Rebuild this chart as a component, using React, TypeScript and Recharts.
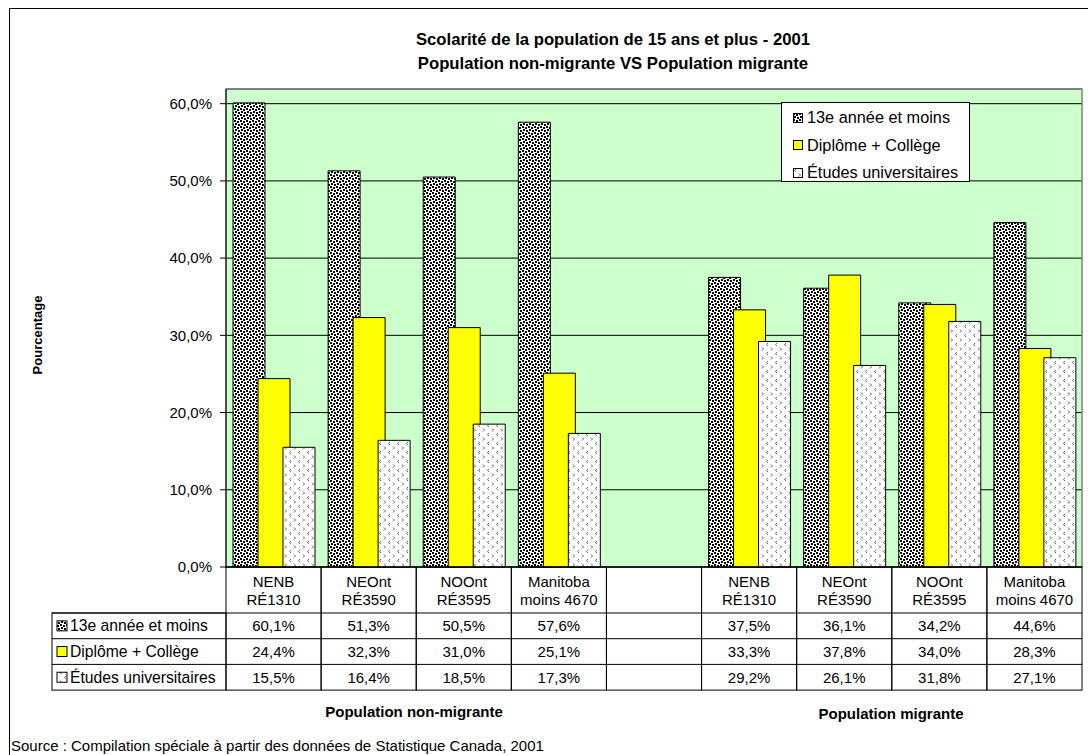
import React from "react";
import { BarChart, Bar, XAxis, YAxis, CartesianGrid, Legend, ReferenceArea } from "recharts";

// catégories (deux lignes par étiquette), colonne vide au centre
const categories: [string, string][] = [
  ["NENB", "RÉ1310"],
  ["NEOnt", "RÉ3590"],
  ["NOOnt", "RÉ3595"],
  ["Manitoba", "moins 4670"],
  ["", ""],
  ["NENB", "RÉ1310"],
  ["NEOnt", "RÉ3590"],
  ["NOOnt", "RÉ3595"],
  ["Manitoba", "moins 4670"],
];

const secondaire = [60.1, 51.3, 50.5, 57.6, null, 37.5, 36.1, 34.2, 44.6];
const college = [24.4, 32.3, 31.0, 25.1, null, 33.3, 37.8, 34.0, 28.3];
const universite = [15.5, 16.4, 18.5, 17.3, null, 29.2, 26.1, 31.8, 27.1];

const seriesNames = ["13e année et moins", "Diplôme + Collège", "Études universitaires"];
const yTicks = [0, 10, 20, 30, 40, 50, 60];

const data = categories.map((c, i) => ({
  key: "c" + i,
  s1: secondaire[i],
  s2: college[i],
  s3: universite[i],
}));

const FONT = "'Liberation Sans', Arial, sans-serif";
const fills = ["url(#patDark)", "#ffff00", "url(#patLight)"];
const rowsData = [secondaire, college, universite];
const HEADER_H = 46;
const ROW_H = 25.7;
const LABEL_W = 174;

const fmt = (v: number | null) => (v == null ? "" : v.toFixed(1).replace(".", ",") + "%");

function TableTick(props: any) {
  const { x, y, payload, index } = props;
  const half = payload && payload.offset ? payload.offset : 47.5;
  const i = index;
  const left = x - half;
  const [l1, l2] = categories[i] || ["", ""];
  return (
    <g fontFamily={FONT} fontSize={15} fill="#000">
      <rect x={left} y={y} width={half * 2} height={HEADER_H + ROW_H * 3} fill="none" stroke="#000" />
      <text x={x} y={y + 14} textAnchor="middle" dominantBaseline="central" fill="#000">{l1}</text>
      <text x={x} y={y + 32} textAnchor="middle" dominantBaseline="central" fill="#000">{l2}</text>
      {rowsData.map((r, k) => {
        const ry = y + HEADER_H + ROW_H * k;
        return (
          <g key={k}>
            <line x1={left} x2={left + half * 2} y1={ry} y2={ry} stroke="#000" />
            <text x={x} y={ry + ROW_H / 2} textAnchor="middle" dominantBaseline="central" fill="#000">
              {fmt(r[i])}
            </text>
          </g>
        );
      })}
      {i === 0 && (
        <g>
          <rect x={left - LABEL_W} y={y + HEADER_H} width={LABEL_W} height={ROW_H * 3} fill="none" stroke="#000" />
          {seriesNames.map((n, k) => {
            const ry = y + HEADER_H + ROW_H * k;
            return (
              <g key={n}>
                <line x1={left - LABEL_W} x2={left} y1={ry} y2={ry} stroke="#000" />
                <rect x={left - LABEL_W + 5} y={ry + ROW_H / 2 - 5} width={10} height={10} fill={fills[k]} stroke="#000" />
                <text x={left - LABEL_W + 18} y={ry + ROW_H / 2} dominantBaseline="central" fontSize={15.7} fill="#000">{n}</text>
              </g>
            );
          })}
        </g>
      )}
    </g>
  );
}

function LegendBox() {
  return (
    <div
      style={{
        width: 189,
        height: 80,
        border: "1px solid #000",
        background: "#fff",
        fontFamily: FONT,
        fontSize: 16.3,
        boxSizing: "border-box",
        paddingTop: 1,
      }}
    >
      {seriesNames.map((n, k) => (
        <div key={n} style={{ display: "flex", alignItems: "center", height: 27.5, paddingLeft: 11, whiteSpace: "nowrap" }}>
          <svg width={10} height={10} style={{ marginRight: 4, flexShrink: 0 }}>
            <rect x={0.5} y={0.5} width={9} height={9} fill={fills[k]} stroke="#000" />
          </svg>
          <span>{n}</span>
        </div>
      ))}
    </div>
  );
}

export default function App() {
  return (
    <div style={{ position: "absolute", left: 0, top: 0, width: 1088, height: 755, overflow: "hidden", background: "#fff", fontFamily: FONT }}>
      <div style={{ position: "absolute", left: 9, top: 8, width: 1100, height: 800, border: "1px solid #000" }} />
      <div style={{ position: "absolute", left: 226, width: 774, top: 28, textAlign: "center", fontWeight: "bold", fontSize: 16.7, lineHeight: "24px" }}>
        Scolarité de la population de 15 ans et plus - 2001
        <br />
        Population non-migrante VS Population migrante
      </div>
      <div
        style={{
          position: "absolute",
          left: 37,
          top: 335,
          transform: "translate(-50%, -50%) rotate(-90deg)",
          fontWeight: "bold",
          fontSize: 13,
          whiteSpace: "nowrap",
        }}
      >
        Pourcentage
      </div>
      <div style={{ position: "absolute", left: 0, top: 0 }}>
        <BarChart
          width={1088}
          height={755}
          data={data}
          margin={{ top: 89, right: 6, bottom: 0, left: 0 }}
          barSize={32}
          barGap={-7}
        >
          <defs>
            <pattern id="patDark" width={6} height={6} patternUnits="userSpaceOnUse">
              <rect width={6} height={6} fill="#fff" />
              <rect x={0} y={0} width={2} height={2} fill="#000" />
              <rect x={3} y={1} width={2} height={2} fill="#000" />
              <rect x={1} y={3} width={2} height={2} fill="#000" />
              <rect x={4} y={4} width={2} height={2} fill="#000" />
            </pattern>
            <pattern id="patLight" width={9} height={9} patternUnits="userSpaceOnUse">
              <rect width={9} height={9} fill="#fff" />
              <path d="M3 1 L1.5 2.5 L3 4" stroke="#555" strokeWidth={0.9} fill="none" />
              <path d="M6 5.5 L7.5 7 L6 8.5" stroke="#555" strokeWidth={0.9} fill="none" />
            </pattern>
          </defs>
          <CartesianGrid vertical={false} stroke="#000" fill="#ccffcc" fillOpacity={1} />
          <ReferenceArea y1={0} y2={61.9} fill="none" stroke="#808080" strokeWidth={1.5} ifOverflow="visible" />
          <XAxis
            dataKey="key"
            interval={0}
            tickLine={false}
            tickSize={0}
            tickMargin={0}
            height={188}
            axisLine={{ stroke: "#000" }}
            tick={<TableTick />}
          />
          <YAxis
            width={226}
            domain={[0, 61.9]}
            ticks={yTicks}
            tickFormatter={(v: number) => v.toFixed(1).replace(".", ",") + "%"}
            axisLine={{ stroke: "#000" }}
            tickLine={{ stroke: "#000" }}
            tickSize={6}
            tickMargin={8}
            tick={{ fill: "#000", fontSize: 15, fontFamily: FONT }}
          />
          <Legend
            layout="horizontal"
            verticalAlign="middle"
            content={() => <LegendBox />}
            wrapperStyle={{ left: 781, top: 102, width: 189 }}
          />
          <Bar dataKey="s1" name={seriesNames[0]} fill="url(#patDark)" stroke="#000" strokeWidth={1} isAnimationActive={false} />
          <Bar dataKey="s2" name={seriesNames[1]} fill="#ffff00" stroke="#000" strokeWidth={1} isAnimationActive={false} />
          <Bar dataKey="s3" name={seriesNames[2]} fill="url(#patLight)" stroke="#000" strokeWidth={1} isAnimationActive={false} />
        </BarChart>
      </div>
      <div style={{ position: "absolute", left: 414, top: 711, transform: "translate(-50%, -50%)", fontWeight: "bold", fontSize: 15, whiteSpace: "nowrap" }}>
        Population non-migrante
      </div>
      <div style={{ position: "absolute", left: 891, top: 713, transform: "translate(-50%, -50%)", fontWeight: "bold", fontSize: 15, whiteSpace: "nowrap" }}>
        Population migrante
      </div>
      <div style={{ position: "absolute", left: 11, top: 745, transform: "translateY(-50%)", fontSize: 15, whiteSpace: "nowrap" }}>
        Source : Compilation spéciale à partir des données de Statistique Canada, 2001
      </div>
    </div>
  );
}
